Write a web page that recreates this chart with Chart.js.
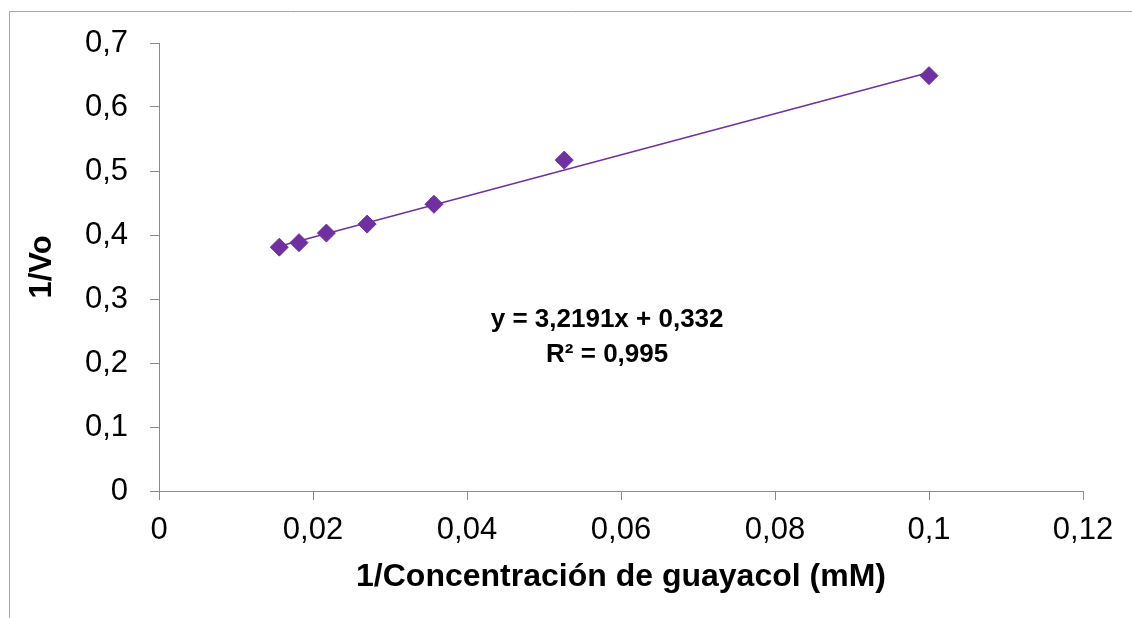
<!DOCTYPE html>
<html>
<head>
<meta charset="utf-8">
<script src="https://cdn.jsdelivr.net/npm/chart.js@4"></script>
<style>
  html, body { margin: 0; padding: 0; background: #fff; }
  #wrap { width: 1132px; height: 618px; }
</style>
</head>
<body>
<div id="wrap"><canvas id="myChart" width="1132" height="618"></canvas></div>
<script>
// Lineweaver-Burk data: 1/[guayacol] vs 1/Vo
var invConc = [0.015625, 0.01818, 0.02174, 0.02703, 0.03571, 0.05263, 0.1];
var invVo = [0.381, 0.388, 0.403, 0.417, 0.448, 0.517, 0.649];

// linear fit reported on the chart
var slope = 3.2191;
var intercept = 0.332;
var r2 = 0.995;

var purple = '#7030A0';
var axisGrey = '#8c8c8c';

function comma(v, digits) {
    return String(Number(v.toFixed(digits))).replace('.', ',');
}

var xMin = Math.min.apply(null, invConc);
var xMax = Math.max.apply(null, invConc);
var trend = [
    { x: xMin, y: slope * xMin + intercept },
    { x: xMax, y: slope * xMax + intercept }
];

var points = invConc.map(function (x, i) { return { x: x, y: invVo[i] }; });

// frame around the chart object and the fit equation
var extras = {
    id: 'extras',
    beforeDraw: function (chart) {
        var ctx = chart.ctx;
        ctx.save();
        ctx.strokeStyle = '#a6a6a6';
        ctx.lineWidth = 1;
        ctx.beginPath();
        ctx.moveTo(9.5, 630);
        ctx.lineTo(9.5, 11.5);
        ctx.lineTo(1140, 11.5);
        ctx.stroke();
        ctx.restore();
    },
    afterDatasetsDraw: function (chart) {
        var ctx = chart.ctx;
        var xs = chart.scales.x, ys = chart.scales.y;
        var cx = xs.getPixelForValue(0.0582);
        var cy = ys.getPixelForValue(0.267);
        ctx.save();
        ctx.fillStyle = '#000';
        ctx.font = 'bold 26px "Liberation Sans", Arial, sans-serif';
        ctx.textAlign = 'center';
        ctx.textBaseline = 'middle';
        ctx.fillText('y = ' + comma(slope, 4) + 'x + ' + comma(intercept, 3), cx, cy);
        ctx.fillText('R\u00b2 = ' + comma(r2, 3), cx, cy + 35);
        ctx.restore();
    }
};

Chart.defaults.font.family = '"Liberation Sans", Arial, sans-serif';
Chart.defaults.color = '#000';

var ctx = document.getElementById('myChart').getContext('2d');
var myChart = new Chart(ctx, {
    type: 'scatter',
    data: {
        datasets: [{
            label: '1/Vo',
            data: points,
            pointStyle: 'rectRot',
            pointRadius: 9,
            pointHoverRadius: 9,
            backgroundColor: purple,
            borderColor: purple,
            borderWidth: 1,
            order: 1
        }, {
            type: 'line',
            label: 'Lineal',
            data: trend,
            borderColor: purple,
            borderWidth: 1.5,
            pointRadius: 0,
            fill: false,
            order: 2
        }]
    },
    options: {
        responsive: false,
        animation: false,
        events: [],
        layout: { padding: { left: 0, top: 43, right: 49, bottom: 0 } },
        plugins: {
            legend: { display: false },
            tooltip: { enabled: false }
        },
        scales: {
            x: {
                type: 'linear',
                min: 0,
                max: 0.12,
                afterFit: function (scale) { scale.height = 127; },
                ticks: {
                    stepSize: 0.02,
                    padding: 12,
                    font: { size: 31 },
                    callback: function (v) { return comma(v, 2); }
                },
                grid: { drawOnChartArea: false, tickLength: 9, color: axisGrey },
                border: { color: axisGrey, width: 1 },
                title: {
                    display: true,
                    text: '1/Concentración de guayacol (mM)',
                    font: { size: 32, weight: 'bold' },
                    padding: { top: 0, bottom: 22 }
                }
            },
            y: {
                min: 0,
                max: 0.7,
                afterFit: function (scale) { scale.width = 159; },
                ticks: {
                    stepSize: 0.1,
                    padding: 22,
                    font: { size: 31 },
                    callback: function (v) { return comma(v, 1); }
                },
                grid: { drawOnChartArea: false, tickLength: 9, color: axisGrey },
                border: { color: axisGrey, width: 1 },
                title: {
                    display: true,
                    text: '1/Vo',
                    font: { size: 31, weight: 'bold' },
                    padding: { top: 24, bottom: 0 }
                }
            }
        }
    },
    plugins: [extras]
});
</script>
</body>
</html>
